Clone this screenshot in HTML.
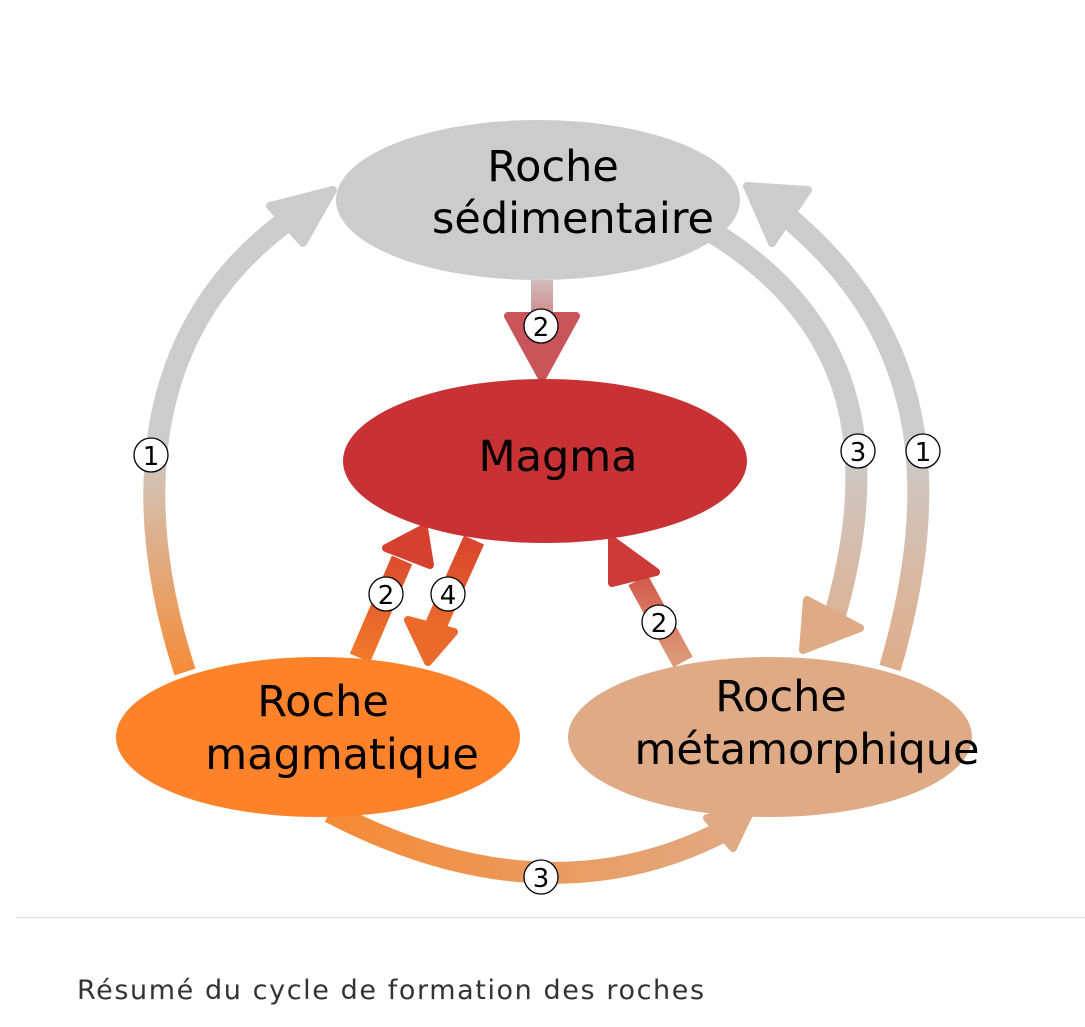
<!DOCTYPE html>
<html><head><meta charset="utf-8"><style>
html,body{margin:0;padding:0;background:#fff;width:1085px;height:1027px;overflow:hidden}
svg{position:absolute;left:0;top:0}
.cap{position:absolute;left:77px;top:975px;font-family:"DejaVu Sans","Liberation Sans",sans-serif;font-size:27px;letter-spacing:1.6px;color:#333}
</style></head><body>
<svg width="1085" height="1027" viewBox="0 0 1085 1027" font-family="DejaVu Sans, Liberation Sans, sans-serif">
<defs>
<linearGradient id="gL" x1="0" y1="680" x2="0" y2="190" gradientUnits="userSpaceOnUse"><stop offset="0" stop-color="#f58a35"/><stop offset="0.5" stop-color="#cccccc"/><stop offset="1" stop-color="#cccccc"/></linearGradient>
<linearGradient id="gR" x1="0" y1="680" x2="0" y2="190" gradientUnits="userSpaceOnUse"><stop offset="0" stop-color="#dfab86"/><stop offset="0.5" stop-color="#cccccc"/><stop offset="1" stop-color="#cccccc"/></linearGradient>
<linearGradient id="gS" x1="0" y1="280" x2="0" y2="380" gradientUnits="userSpaceOnUse"><stop offset="0" stop-color="#d2bcbc"/><stop offset="1" stop-color="#c83235"/></linearGradient>
<linearGradient id="gB" x1="330" y1="0" x2="760" y2="0" gradientUnits="userSpaceOnUse"><stop offset="0" stop-color="#f58a35"/><stop offset="1" stop-color="#dfab86"/></linearGradient>
<linearGradient id="gM" x1="0" y1="530" x2="0" y2="660" gradientUnits="userSpaceOnUse"><stop offset="0" stop-color="#d6402e"/><stop offset="1" stop-color="#f27a2a"/></linearGradient>
<linearGradient id="gMe" x1="0" y1="535" x2="0" y2="660" gradientUnits="userSpaceOnUse"><stop offset="0" stop-color="#cc3a38"/><stop offset="1" stop-color="#dd9a78"/></linearGradient>
</defs>
<g fill="none" stroke-width="22">
<path d="M185,672 C135,520 130,330 295,215" stroke="url(#gL)"/>
<path d="M890,668 C945,480 925,330 785,215" stroke="url(#gR)"/>
<path d="M712,232 C855,320 885,450 832,625" stroke="url(#gR)"/>
<path d="M330,812 C460,880 600,900 735,825" stroke="url(#gB)"/>
<path d="M360,658 L402,560" stroke="url(#gM)"/>
<path d="M474,540 L436,625" stroke="url(#gM)"/>
<path d="M683,662 L638,580" stroke="url(#gMe)"/>
<path d="M542,280 L542,318" stroke="url(#gS)"/>
</g>
<g stroke-linejoin="round" stroke-width="8">
<polygon points="270,206 333,190 303,243" fill="#cccccc" stroke="#cccccc"/>
<polygon points="747,186 808,190 772,243" fill="#cccccc" stroke="#cccccc"/>
<polygon points="807,600 860,628 803,650" fill="#dfab86" stroke="#dfab86"/>
<polygon points="707,818 752,808 733,848" fill="#dfab86" stroke="#dfab86"/>
<polygon points="508,316 576,316 542,378" fill="#c9545a" stroke="#c9545a"/>
<polygon points="386,548 424,528 430,565" fill="#d6402e" stroke="#d6402e"/>
<polygon points="408,620 454,632 428,662" fill="#ea6a2c" stroke="#ea6a2c"/>
<polygon points="612,540 656,572 612,583" fill="#cc3a38" stroke="#cc3a38"/>
</g>
<ellipse cx="538" cy="200" rx="202" ry="80" fill="#cccccc"/>
<ellipse cx="545" cy="461" rx="202" ry="82" fill="#c83235"/>
<ellipse cx="318" cy="737" rx="202" ry="80" fill="#fd8229"/>
<ellipse cx="770" cy="737" rx="202" ry="80" fill="#dfab86"/>
<g font-size="43" fill="#000" text-anchor="middle">
<text x="553" y="181">Roche</text>
<text x="573" y="233">sédimentaire</text>
<text x="558" y="471">Magma</text>
<text x="323" y="716">Roche</text>
<text x="342" y="769">magmatique</text>
<text x="781" y="711">Roche</text>
<text x="807" y="764">métamorphique</text>
</g>
<g font-size="26" text-anchor="middle" fill="#000">
<g transform="translate(151,455)"><circle r="17" fill="#fff" stroke="#000" stroke-width="1.3"/><text y="10">1</text></g>
<g transform="translate(858,451)"><circle r="17" fill="#fff" stroke="#000" stroke-width="1.3"/><text y="10">3</text></g>
<g transform="translate(923,451)"><circle r="17" fill="#fff" stroke="#000" stroke-width="1.3"/><text y="10">1</text></g>
<g transform="translate(541,326)"><circle r="17" fill="#fff" stroke="#000" stroke-width="1.3"/><text y="10">2</text></g>
<g transform="translate(386,594)"><circle r="17" fill="#fff" stroke="#000" stroke-width="1.3"/><text y="10">2</text></g>
<g transform="translate(448,594)"><circle r="17" fill="#fff" stroke="#000" stroke-width="1.3"/><text y="10">4</text></g>
<g transform="translate(659,622)"><circle r="17" fill="#fff" stroke="#000" stroke-width="1.3"/><text y="10">2</text></g>
<g transform="translate(541,877)"><circle r="17" fill="#fff" stroke="#000" stroke-width="1.3"/><text y="10">3</text></g>
</g>
<line x1="16" y1="917.5" x2="1085" y2="917.5" stroke="#e3e3e3" stroke-width="1.5"/>
</svg>
<div class="cap">Résumé du cycle de formation des roches</div>
</body></html>
